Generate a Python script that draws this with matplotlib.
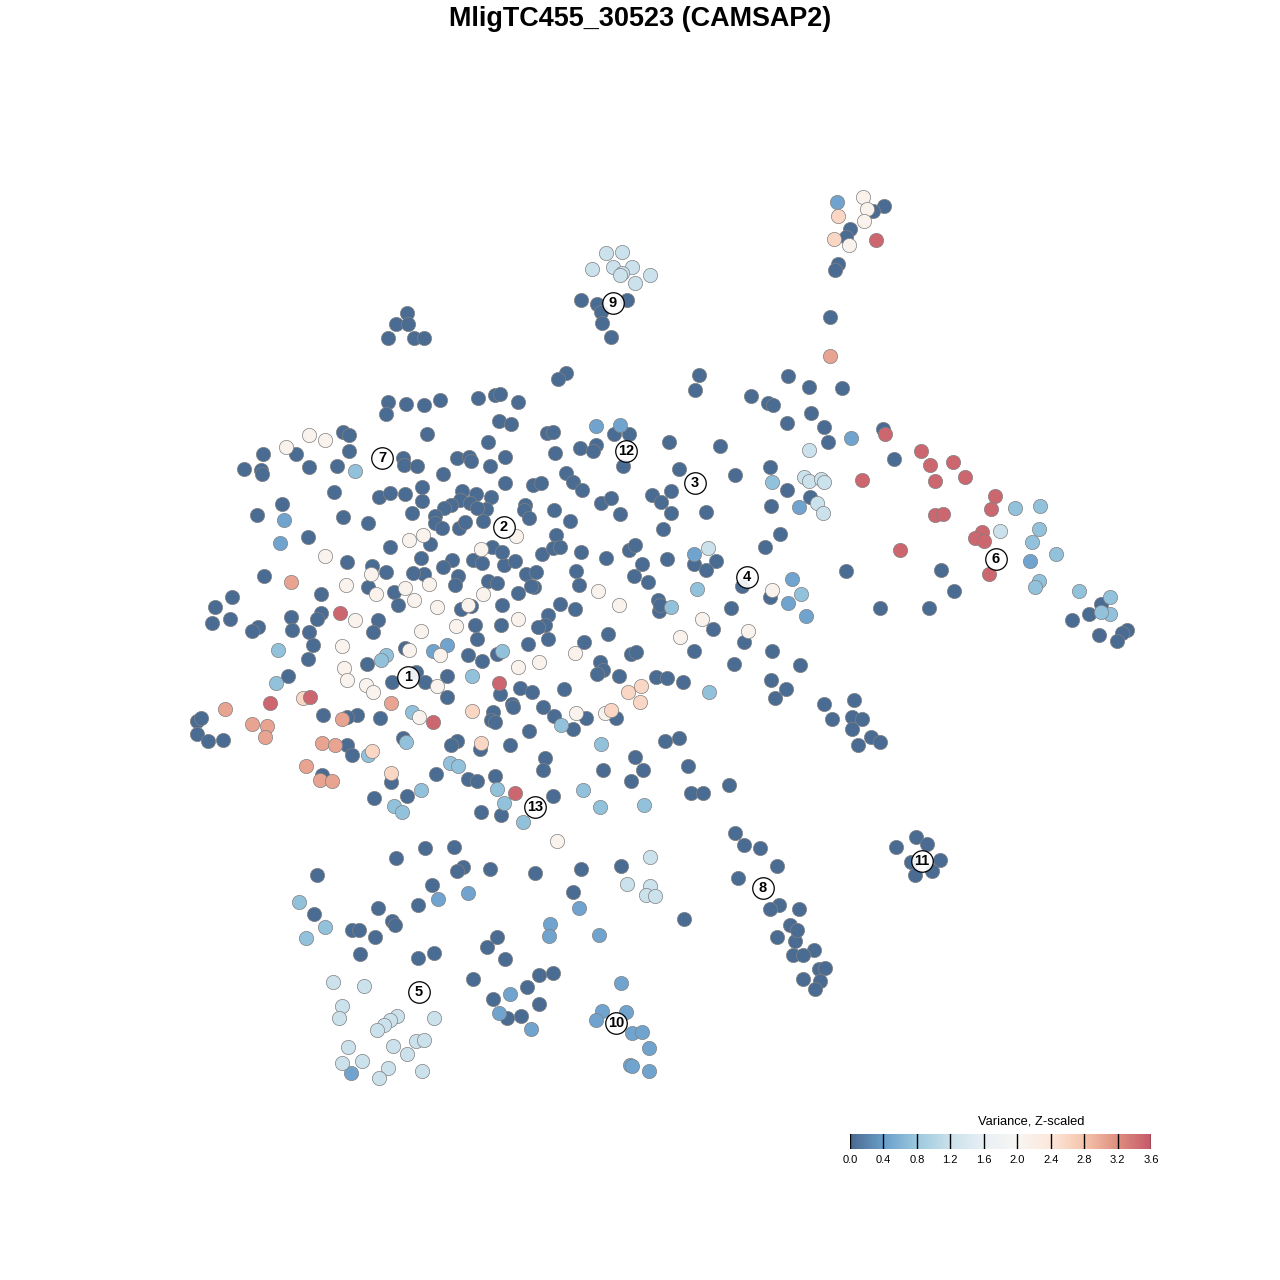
import numpy as np
import matplotlib
matplotlib.use("Agg")
import matplotlib.pyplot as plt
from matplotlib.colors import LinearSegmentedColormap

plt.rcParams['font.family'] = ['Liberation Sans', 'DejaVu Sans']

# embedding positions, grouped by colour level
dark_x = [884,873,850,846,838,835,830,581,597,601,627,602,611,407,396,408,388,414,424,566,558,699,695,788,809,842,751,768,773,787,811,824,828,883,894,
          388,386,406,424,440,478,495,500,518,499,511,343,349,427,547,553,488,349,263,296,244,261,262,309,337,403,404,417,457,469,471,443,505,490,580,596,593,629,614,669,720,623,566,573,582,555,679,735,770,
          334,379,390,405,422,422,505,533,541,476,462,491,460,451,444,470,525,524,529,486,477,412,435,435,442,459,465,483,554,570,556,601,611,620,652,661,671,671,706,663,282,257,343,368,308,771,787,780,765,810,
          390,430,452,443,421,458,455,424,413,386,372,368,347,264,321,394,398,488,497,504,515,473,482,492,502,542,553,560,581,606,629,635,642,667,694,716,706,526,536,534,531,518,576,579,634,648,658,659,660,731,742,770,846,941,954,880,929,
          232,215,212,230,258,252,291,292,321,317,309,313,308,378,373,461,471,502,548,560,575,545,538,501,475,477,528,548,584,608,713,744,694,772,734,800,631,636,600,603,597,619,656,667,683,771,786,775,
          288,367,405,416,392,425,447,468,482,497,447,500,520,532,564,512,513,543,554,573,586,616,493,491,495,323,357,347,380,529,510,457,451,403,480,347,352,665,679,635,545,543,603,688,643,631,729,691,703,436,468,477,495,391,407,374,553,481,501,824,854,832,852,862,852,871,880,858,
          197,201,197,208,223,322,735,744,760,777,738,779,770,799,790,777,795,797,814,793,803,819,825,803,820,815,
          916,927,896,911,940,932,915,425,454,396,463,457,490,535,581,621,317,432,573,418,378,314,392,395,352,359,375,684,497,487,434,418,360,505,473,539,553,527,493,539,507,521,
          1101,1089,1072,1127,1122,1117,1099]
dark_y = [206,211,229,237,264,270,317,300,304,312,300,323,337,313,324,324,338,338,338,373,379,375,390,376,387,388,396,403,405,423,413,427,442,429,459,
          402,414,404,405,400,398,395,394,402,421,424,432,435,434,433,432,442,451,454,454,469,470,474,467,466,458,465,466,458,457,461,474,457,466,448,445,451,434,434,442,446,466,473,482,490,453,469,475,467,
          492,497,493,494,487,501,483,485,483,494,491,497,500,505,508,503,505,510,518,509,508,513,516,523,528,528,522,521,510,521,535,503,498,514,495,502,491,513,512,529,504,515,517,523,537,506,490,534,547,497,
          547,544,560,567,558,576,585,574,573,572,566,587,562,576,594,592,605,581,583,565,561,560,563,547,552,554,548,547,552,558,550,545,564,559,564,561,570,574,572,587,586,593,571,585,576,582,600,611,605,608,586,597,571,570,591,608,608,
          597,607,623,619,627,631,617,630,613,619,632,645,659,620,632,609,606,605,615,604,609,625,627,625,625,639,644,639,642,634,629,642,651,651,664,665,654,652,662,670,674,676,677,678,682,680,689,698,
          676,664,648,672,682,682,676,655,661,654,697,694,688,692,689,704,707,707,716,729,718,718,712,720,722,715,715,717,718,731,745,741,745,738,749,745,755,741,738,757,758,770,770,766,770,781,785,793,793,774,779,781,776,782,796,798,796,812,815,704,700,719,717,719,729,737,742,745,
          721,718,734,741,740,775,833,845,848,866,878,905,909,909,925,937,941,930,950,955,955,969,968,979,981,989,
          837,844,847,862,860,871,875,848,847,858,867,871,869,873,869,866,875,885,892,905,908,914,921,925,930,930,937,919,937,947,953,958,954,959,979,975,973,987,999,1004,1018,1016,
          604,614,620,630,633,641,635]
mid_x = [837,851,596,620,284,280,694,792,788,806,799,447,433,510,499,531,602,596,632,642,649,630,632,649,550,549,599,579,468,438,351,1030,621,626]
mid_y = [202,438,426,425,520,543,554,579,603,616,507,645,651,994,1013,1029,1011,1020,1033,1032,1048,1065,1066,1071,924,936,935,908,893,899,1073,561,983,1012]
light_x = [355,772,1015,1040,1039,1032,1056,1039,1035,1079,1110,1110,1101,671,697,801,278,386,381,276,472,502,709,412,406,368,450,458,421,497,504,394,402,523,583,600,644,561,601,299,325,306]
light_y = [471,482,508,506,529,542,554,581,587,591,597,614,612,607,589,594,650,655,660,683,676,651,692,712,742,755,763,766,790,789,803,806,812,822,790,807,805,725,744,902,927,938]
pale_x = [606,622,592,613,632,622,620,650,635,809,804,809,821,824,817,823,708,1000,650,627,650,646,655,333,364,342,339,434,397,390,384,377,393,416,424,407,342,362,348,388,379,422]
pale_y = [253,252,269,267,267,273,275,275,283,450,477,481,479,482,503,513,548,531,857,884,886,895,896,982,986,1006,1018,1018,1016,1020,1025,1030,1046,1041,1040,1054,1063,1061,1047,1068,1078,1071]
white_x = [863,867,864,849,309,325,286,409,423,481,516,325,371,346,376,405,414,429,437,468,483,598,619,355,456,518,421,342,409,440,344,347,366,373,437,518,539,575,680,702,748,772,419,576,605,557]
white_y = [197,209,221,245,435,440,447,540,535,549,536,556,574,585,594,588,600,584,607,605,594,591,605,620,626,619,631,646,650,655,668,680,685,692,686,667,662,653,637,619,631,590,717,713,713,841]
peach_x = [838,834,303,472,481,372,391,628,641,640,611]
peach_y = [216,239,698,711,743,751,773,692,686,702,710]
salmon_x = [830,225,252,267,265,342,391,322,335,306,320,332,291]
salmon_y = [356,709,724,726,737,719,703,743,745,766,780,781,582]
red_x = [876,885,921,930,953,965,935,862,995,991,935,943,982,975,984,900,989,340,270,310,433,499,515]
red_y = [240,434,451,465,462,477,481,480,496,509,515,514,532,538,541,550,574,613,703,697,722,683,793]

# value of each colour group (Variance, Z-scaled)
group_values = [0.02, 0.45, 0.72, 1.2, 2.1, 2.6, 3.05, 3.5]

cluster_ids = [1,2,3,4,5,6,7,8,9,10,11,12,13]
cluster_x = [408,504,695,747,419,996,382,763,613,616,922,626,535]
cluster_y = [677,527,483,577,992,559,458,888,303,1023,861,451,807]

colorbar_ticks = [0.0,0.4,0.8,1.2,1.6,2.0,2.4,2.8,3.2,3.6]

cmap = LinearSegmentedColormap.from_list("var", ["#4a6a90","#6a9fcb","#9cc9df","#cbe1eb","#e8f0f5",
                                                 "#f8f6f3","#fde8dc","#f6c5ad","#e08f80","#c65a6b"])

fig = plt.figure(figsize=(12.8, 12.8), dpi=100)
ax = fig.add_axes([0, 0, 1, 1])
ax.set_xlim(0, 1280)
ax.set_ylim(1280, 0)
ax.axis("off")

groups = [(dark_x, dark_y), (mid_x, mid_y), (light_x, light_y), (pale_x, pale_y),
          (white_x, white_y), (peach_x, peach_y), (salmon_x, salmon_y), (red_x, red_y)]
for (gx, gy), val in zip(groups, group_values):
    ax.scatter(gx, gy, s=105, color=cmap(val / 3.6), edgecolors="#808080", linewidths=0.5, zorder=2 + val)

# cluster labels
ax.scatter(cluster_x, cluster_y, s=240, facecolor=(1, 1, 1, 0.9), edgecolors="black", linewidths=0.9, zorder=10)
for cid, cx, cy in zip(cluster_ids, cluster_x, cluster_y):
    ax.text(cx, cy, str(cid), ha="center", va="center", fontsize=10.5, fontweight="bold", zorder=11)

fig.text(0.5, 1 - 19 / 1280, "MligTC455_30523 (CAMSAP2)", ha="center", va="center", fontsize=19.45, fontweight="bold")

# colorbar
cax = fig.add_axes([850 / 1280, 1 - 1149 / 1280, 301 / 1280, 15 / 1280])
grad = np.linspace(0, 3.6, 256).reshape(1, -1)
cax.imshow(grad, aspect="auto", cmap=cmap, extent=[0, 3.6, 0, 1])
cax.set_yticks([])
cax.set_xticks(colorbar_ticks)
cax.set_xticklabels([f"{t:.1f}" for t in colorbar_ticks], fontsize=8)
cax.tick_params(axis="x", length=0, pad=4)
for t in colorbar_ticks:
    cax.axvline(t, color="black", lw=1)
for sp in cax.spines.values():
    sp.set_visible(False)
fig.text(1031 / 1280, 1 - 1122 / 1280, "Variance, Z-scaled", ha="center", va="center", fontsize=9.3)

fig.savefig("out.png", dpi=100)
